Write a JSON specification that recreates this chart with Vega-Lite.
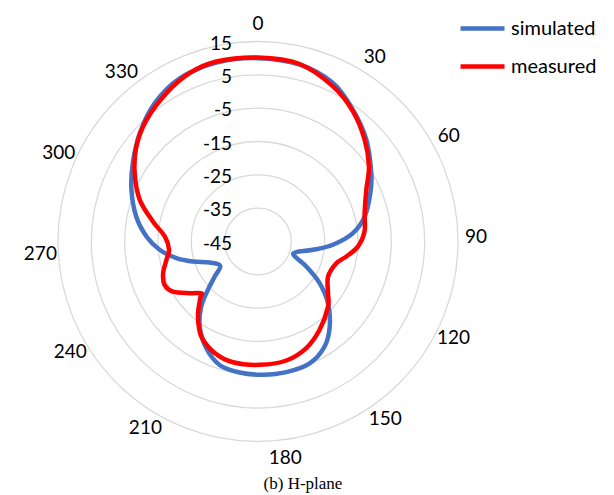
{
  "$schema": "https://vega.github.io/schema/vega-lite/v6.json",
  "width": 614,
  "height": 470,
  "autosize": {"type": "none"},
  "padding": {"left": 0, "right": 0, "top": 0, "bottom": 25},
  "background": "white",
  "config": {"view": {"stroke": null}, "font": "Lato"},
  "title": {"text": "(b) H-plane", "orient": "bottom", "anchor": "middle", "font": "Liberation Serif", "fontSize": 17, "fontWeight": "normal", "color": "#000000", "dx": -4, "offset": 6},
  "datasets": {
    "rings": [{"r": 10}, {"r": 20}, {"r": 30}, {"r": 40}, {"r": 50}, {"r": 60}],
    "rlabels": [
      {"v": -45, "t": "-45"}, {"v": -35, "t": "-35"}, {"v": -25, "t": "-25"}, {"v": -15, "t": "-15"},
      {"v": -5, "t": "-5"}, {"v": 5, "t": "5"}, {"v": 15, "t": "15"}
    ],
    "alabels": [
      {"t": "0", "p": 0}, {"t": "30", "p": 32.4}, {"t": "60", "p": 61.1}, {"t": "90", "p": 88.8},
      {"t": "120", "p": 116.3}, {"t": "150", "p": 144.3}, {"t": "180", "p": 172.8}, {"t": "210", "p": 211.1},
      {"t": "240", "p": 239.4}, {"t": "270", "p": 266.6}, {"t": "300", "p": 294}, {"t": "330", "p": 321.2}
    ],
    "curves": [
      {"s": "simulated", "a": 0, "db": 10.0},
      {"s": "simulated", "a": 13.3, "db": 9.5},
      {"s": "simulated", "a": 25.3, "db": 7.6},
      {"s": "simulated", "a": 35.8, "db": 3.7},
      {"s": "simulated", "a": 46.8, "db": -0.4},
      {"s": "simulated", "a": 58.9, "db": -5.3},
      {"s": "simulated", "a": 66.7, "db": -8.3},
      {"s": "simulated", "a": 76.8, "db": -12.1},
      {"s": "simulated", "a": 85, "db": -16.4},
      {"s": "simulated", "a": 92.5, "db": -22.5},
      {"s": "simulated", "a": 98.6, "db": -28.3},
      {"s": "simulated", "a": 105.6, "db": -33.1},
      {"s": "simulated", "a": 111.3, "db": -33.4},
      {"s": "simulated", "a": 117.3, "db": -28.7},
      {"s": "simulated", "a": 124, "db": -22.7},
      {"s": "simulated", "a": 131.4, "db": -17},
      {"s": "simulated", "a": 139.9, "db": -11.6},
      {"s": "simulated", "a": 147.6, "db": -7.7},
      {"s": "simulated", "a": 157, "db": -5.3},
      {"s": "simulated", "a": 167.8, "db": -4.9},
      {"s": "simulated", "a": 177.9, "db": -5.0},
      {"s": "simulated", "a": 188, "db": -5.3},
      {"s": "simulated", "a": 197.3, "db": -6.2},
      {"s": "simulated", "a": 205.8, "db": -9.4},
      {"s": "simulated", "a": 214.5, "db": -14.1},
      {"s": "simulated", "a": 221.1, "db": -19.1},
      {"s": "simulated", "a": 226, "db": -24.1},
      {"s": "simulated", "a": 231, "db": -28.3},
      {"s": "simulated", "a": 237.1, "db": -31.5},
      {"s": "simulated", "a": 246.5, "db": -29.2},
      {"s": "simulated", "a": 252.9, "db": -24.6},
      {"s": "simulated", "a": 258.5, "db": -20},
      {"s": "simulated", "a": 265.2, "db": -15.4},
      {"s": "simulated", "a": 272.6, "db": -11.5},
      {"s": "simulated", "a": 281.6, "db": -7.7},
      {"s": "simulated", "a": 292.2, "db": -4.0},
      {"s": "simulated", "a": 302, "db": -0.7},
      {"s": "simulated", "a": 312.5, "db": 3.1},
      {"s": "simulated", "a": 323.2, "db": 6.8},
      {"s": "simulated", "a": 334.4, "db": 9.3},
      {"s": "simulated", "a": 346.9, "db": 10.1},
      {"s": "measured", "a": 0, "db": 10.2},
      {"s": "measured", "a": 13.2, "db": 9.7},
      {"s": "measured", "a": 25.8, "db": 6.7},
      {"s": "measured", "a": 36.2, "db": 3.3},
      {"s": "measured", "a": 46.4, "db": -0.8},
      {"s": "measured", "a": 55.9, "db": -4.8},
      {"s": "measured", "a": 64.5, "db": -9.0},
      {"s": "measured", "a": 75.1, "db": -11.9},
      {"s": "measured", "a": 84.6, "db": -12.9},
      {"s": "measured", "a": 92.9, "db": -15.0},
      {"s": "measured", "a": 99.6, "db": -18.1},
      {"s": "measured", "a": 105.5, "db": -20.6},
      {"s": "measured", "a": 116.6, "db": -21.5},
      {"s": "measured", "a": 126.4, "db": -18.9},
      {"s": "measured", "a": 132.9, "db": -16.3},
      {"s": "measured", "a": 145.1, "db": -12.7},
      {"s": "measured", "a": 155.6, "db": -9.9},
      {"s": "measured", "a": 166.6, "db": -8.3},
      {"s": "measured", "a": 179.2, "db": -8.0},
      {"s": "measured", "a": 191.7, "db": -8.0},
      {"s": "measured", "a": 201.2, "db": -9.1},
      {"s": "measured", "a": 210.8, "db": -11.8},
      {"s": "measured", "a": 218.7, "db": -16.2},
      {"s": "measured", "a": 225.5, "db": -20.7},
      {"s": "measured", "a": 227.6, "db": -22.0},
      {"s": "measured", "a": 232.9, "db": -19.3},
      {"s": "measured", "a": 239.5, "db": -15.4},
      {"s": "measured", "a": 245.1, "db": -14.1},
      {"s": "measured", "a": 251.6, "db": -15.0},
      {"s": "measured", "a": 258.7, "db": -17.0},
      {"s": "measured", "a": 264.7, "db": -18.2},
      {"s": "measured", "a": 273.1, "db": -17.0},
      {"s": "measured", "a": 280.8, "db": -12.9},
      {"s": "measured", "a": 289.4, "db": -7.4},
      {"s": "measured", "a": 299, "db": -2.7},
      {"s": "measured", "a": 308, "db": 1.3},
      {"s": "measured", "a": 317.5, "db": 4.5},
      {"s": "measured", "a": 328.3, "db": 7.3},
      {"s": "measured", "a": 337.9, "db": 9.5},
      {"s": "measured", "a": 347, "db": 10.4}
    ]
  },
  "layer": [
    {
      "data": {"name": "rings"},
      "mark": {"type": "point", "shape": "circle", "filled": false, "stroke": "#d9d9d9", "strokeWidth": 1.3, "opacity": 1},
      "encoding": {
        "x": {"datum": 0, "type": "quantitative", "scale": {"domain": [-77.4, 106.8], "nice": false, "zero": false}, "axis": null},
        "y": {"datum": 0, "type": "quantitative", "scale": {"domain": [-68.55, 72.45], "nice": false, "zero": false}, "axis": null},
        "size": {"field": "r", "type": "quantitative", "scale": {"type": "pow", "exponent": 2, "domain": [0, 60], "range": [0, 160000]}, "legend": null}
      }
    },
    {
      "data": {"name": "rlabels"},
      "transform": [{"calculate": "datum.v + 45", "as": "yy"}],
      "mark": {"type": "text", "align": "right", "baseline": "middle", "dx": -26, "dy": 2, "fontSize": 19, "font": "Lato", "color": "#000000"},
      "encoding": {
        "x": {"datum": 0, "type": "quantitative"},
        "y": {"field": "yy", "type": "quantitative"},
        "text": {"field": "t", "type": "nominal"}
      }
    },
    {
      "data": {"name": "alabels"},
      "transform": [
        {"calculate": "65.4 * sin(datum.p * PI / 180)", "as": "lx"},
        {"calculate": "65.4 * cos(datum.p * PI / 180)", "as": "ly"}
      ],
      "mark": {"type": "text", "align": "center", "baseline": "middle", "fontSize": 19, "font": "Lato", "color": "#000000"},
      "encoding": {
        "x": {"field": "lx", "type": "quantitative"},
        "y": {"field": "ly", "type": "quantitative"},
        "text": {"field": "t", "type": "nominal"}
      }
    },
    {
      "data": {"name": "curves"},
      "transform": [
        {"filter": "datum.s === 'simulated'"},
        {"calculate": "(datum.db + 45) * sin(datum.a * PI / 180)", "as": "cx"},
        {"calculate": "(datum.db + 45) * cos(datum.a * PI / 180)", "as": "cy"}
      ],
      "mark": {"type": "line", "interpolate": "cardinal-closed", "strokeWidth": 4.5},
      "encoding": {
        "x": {"field": "cx", "type": "quantitative"},
        "y": {"field": "cy", "type": "quantitative"},
        "order": {"field": "a", "type": "quantitative"},
        "color": {"field": "s", "type": "nominal", "scale": {"domain": ["simulated", "measured"], "range": ["#4472C4", "#FF0000"]},
          "legend": {"title": null, "orient": "none", "legendX": 458, "legendY": 4, "padding": 0, "symbolType": "stroke", "symbolSize": 1936, "symbolStrokeWidth": 4.5, "labelFontSize": 20, "labelFont": "Lato", "labelColor": "#000000", "labelOffset": 4, "rowPadding": 3}}
      }
    },
    {
      "data": {"name": "curves"},
      "transform": [
        {"filter": "datum.s === 'measured'"},
        {"calculate": "(datum.db + 45) * sin(datum.a * PI / 180)", "as": "cx"},
        {"calculate": "(datum.db + 45) * cos(datum.a * PI / 180)", "as": "cy"}
      ],
      "mark": {"type": "line", "interpolate": "cardinal-closed", "strokeWidth": 4.5},
      "encoding": {
        "x": {"field": "cx", "type": "quantitative"},
        "y": {"field": "cy", "type": "quantitative"},
        "order": {"field": "a", "type": "quantitative"},
        "color": {"field": "s", "type": "nominal"}
      }
    }
  ]
}
